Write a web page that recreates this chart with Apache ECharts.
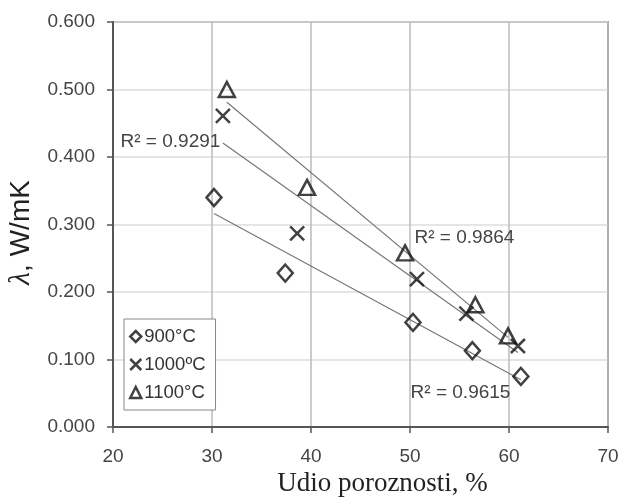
<!DOCTYPE html>
<html>
<head>
<meta charset="utf-8">
<script src="https://cdn.jsdelivr.net/npm/echarts@6/dist/echarts.min.js"></script>
<style>
  html, body { margin: 0; padding: 0; background: #fff; }
  #chart { width: 620px; height: 497px; }
</style>
</head>
<body>
<div id="chart"></div>
<script>
// porosity (%) vs thermal conductivity (W/mK)
var seriesNames = ['900°C', '1000ºC', '1100°C'];
var x900 = [30.2, 37.4, 50.3, 56.3, 61.2];
var y900 = [0.340, 0.228, 0.155, 0.113, 0.075];
var x1000 = [31.1, 38.6, 50.7, 55.7, 60.9];
var y1000 = [0.461, 0.287, 0.219, 0.168, 0.120];
var x1100 = [31.5, 39.6, 49.5, 56.6, 59.9];
var y1100 = [0.500, 0.355, 0.258, 0.181, 0.135];
var r2Labels = ['R² = 0.9615', 'R² = 0.9291', 'R² = 0.9864'];
var xTicks = [20, 30, 40, 50, 60, 70];
var yTicks = [0, 0.1, 0.2, 0.3, 0.4, 0.5, 0.6];

function pairs(xs, ys) {
    var out = [];
    for (var i = 0; i < xs.length; i++) {
        out.push([xs[i], ys[i]]);
    }
    return out;
}

// linear least squares trendline, drawn from first to last x
function trend(xs, ys) {
    var n = xs.length, sx = 0, sy = 0, sxx = 0, sxy = 0;
    for (var i = 0; i < n; i++) {
        sx += xs[i]; sy += ys[i];
        sxx += xs[i] * xs[i]; sxy += xs[i] * ys[i];
    }
    var b = (n * sxy - sx * sy) / (n * sxx - sx * sx);
    var a = (sy - b * sx) / n;
    var x0 = Math.min.apply(null, xs), x1 = Math.max.apply(null, xs);
    return [[x0, a + b * x0], [x1, a + b * x1]];
}

var font = 'Liberation Sans, Arial, sans-serif';
var symbols = ['diamond', 'path://M0,0L10,10M10,0L0,10', 'triangle'];
var sizes = [[15, 17], 14, [16, 15]];
var xsAll = [x900, x1000, x1100];
var ysAll = [y900, y1000, y1100];
// where the R² text sits, in data units
var r2Pos = [[55.1, 0.050], [25.8, 0.422], [55.5, 0.280]];

var series = [];
for (var k = 0; k < 3; k++) {
    series.push({
        name: 'trend' + k,
        type: 'line',
        data: trend(xsAll[k], ysAll[k]),
        symbol: 'none',
        silent: true,
        lineStyle: { color: '#777', width: 1.2 },
        z: 2,
        markPoint: {
            symbol: 'circle',
            symbolSize: 0,
            data: [{ coord: r2Pos[k] }],
            label: {
                show: true,
                formatter: r2Labels[k],
                color: '#444',
                fontSize: 19,
                fontFamily: font
            }
        }
    });
}
for (var k = 0; k < 3; k++) {
    series.push({
        name: seriesNames[k],
        type: 'scatter',
        data: pairs(xsAll[k], ysAll[k]),
        symbol: symbols[k],
        symbolSize: sizes[k],
        itemStyle: { color: 'rgba(255,255,255,0)', borderColor: '#111', borderWidth: 2.5 },
        z: 5
    });
}

var myChart = echarts.init(document.getElementById('chart'));
var option = {
    animation: false,
    backgroundColor: '#fff',
    grid: {
        left: 113, right: 12, top: 22, bottom: 70,
        outerBoundsMode: 'none',
        show: true, borderColor: '#666', borderWidth: 1.5
    },
    legend: {
        data: seriesNames,
        orient: 'vertical',
        left: 124,
        top: 319,
        itemWidth: 11,
        itemHeight: 11,
        itemGap: 9,
        padding: [8, 10, 8, 5],
        borderColor: '#888',
        borderWidth: 1,
        backgroundColor: '#fff',
        itemStyle: { borderWidth: 2.5 },
        textStyle: { fontSize: 18.5, color: '#333', fontFamily: font, padding: [0, 0, 0, -2] }
    },
    xAxis: {
        type: 'value',
        min: xTicks[0],
        max: xTicks[xTicks.length - 1],
        interval: 10,
        name: 'Udio poroznosti, %',
        nameLocation: 'middle',
        nameGap: 41,
        nameTextStyle: {
            fontSize: 27, color: '#222', padding: [0, 0, 0, 44],
            fontFamily: 'Liberation Serif, Times New Roman, serif'
        },
        axisLine: { lineStyle: { color: '#555', width: 2 } },
        axisTick: { show: true, length: 6, lineStyle: { color: '#555', width: 1.5 } },
        axisLabel: { fontSize: 19, color: '#444', margin: 20, fontFamily: font },
        splitLine: { show: true, lineStyle: { color: '#bbb', width: 1.5 } }
    },
    yAxis: {
        type: 'value',
        min: yTicks[0],
        max: yTicks[yTicks.length - 1],
        interval: 0.1,
        name: '{l|λ}, W/mK',
        nameLocation: 'middle',
        nameGap: 69,
        nameTextStyle: {
            fontSize: 28, color: '#222', fontFamily: font, padding: [0, 16, 0, 0],
            rich: { l: { fontSize: 30, fontStyle: 'italic', color: '#222', fontFamily: 'Liberation Serif, Times New Roman, serif' } }
        },
        axisLine: { lineStyle: { color: '#555', width: 2 } },
        axisTick: { show: true, length: 6, lineStyle: { color: '#555', width: 1.5 } },
        axisLabel: {
            fontSize: 19, color: '#444', margin: 18,
            fontFamily: font,
            formatter: function (v) { return v.toFixed(3); }
        },
        splitLine: { show: true, lineStyle: { color: '#ddd', width: 1.5 } }
    },
    series: series
};
myChart.setOption(option);
</script>
</body>
</html>
